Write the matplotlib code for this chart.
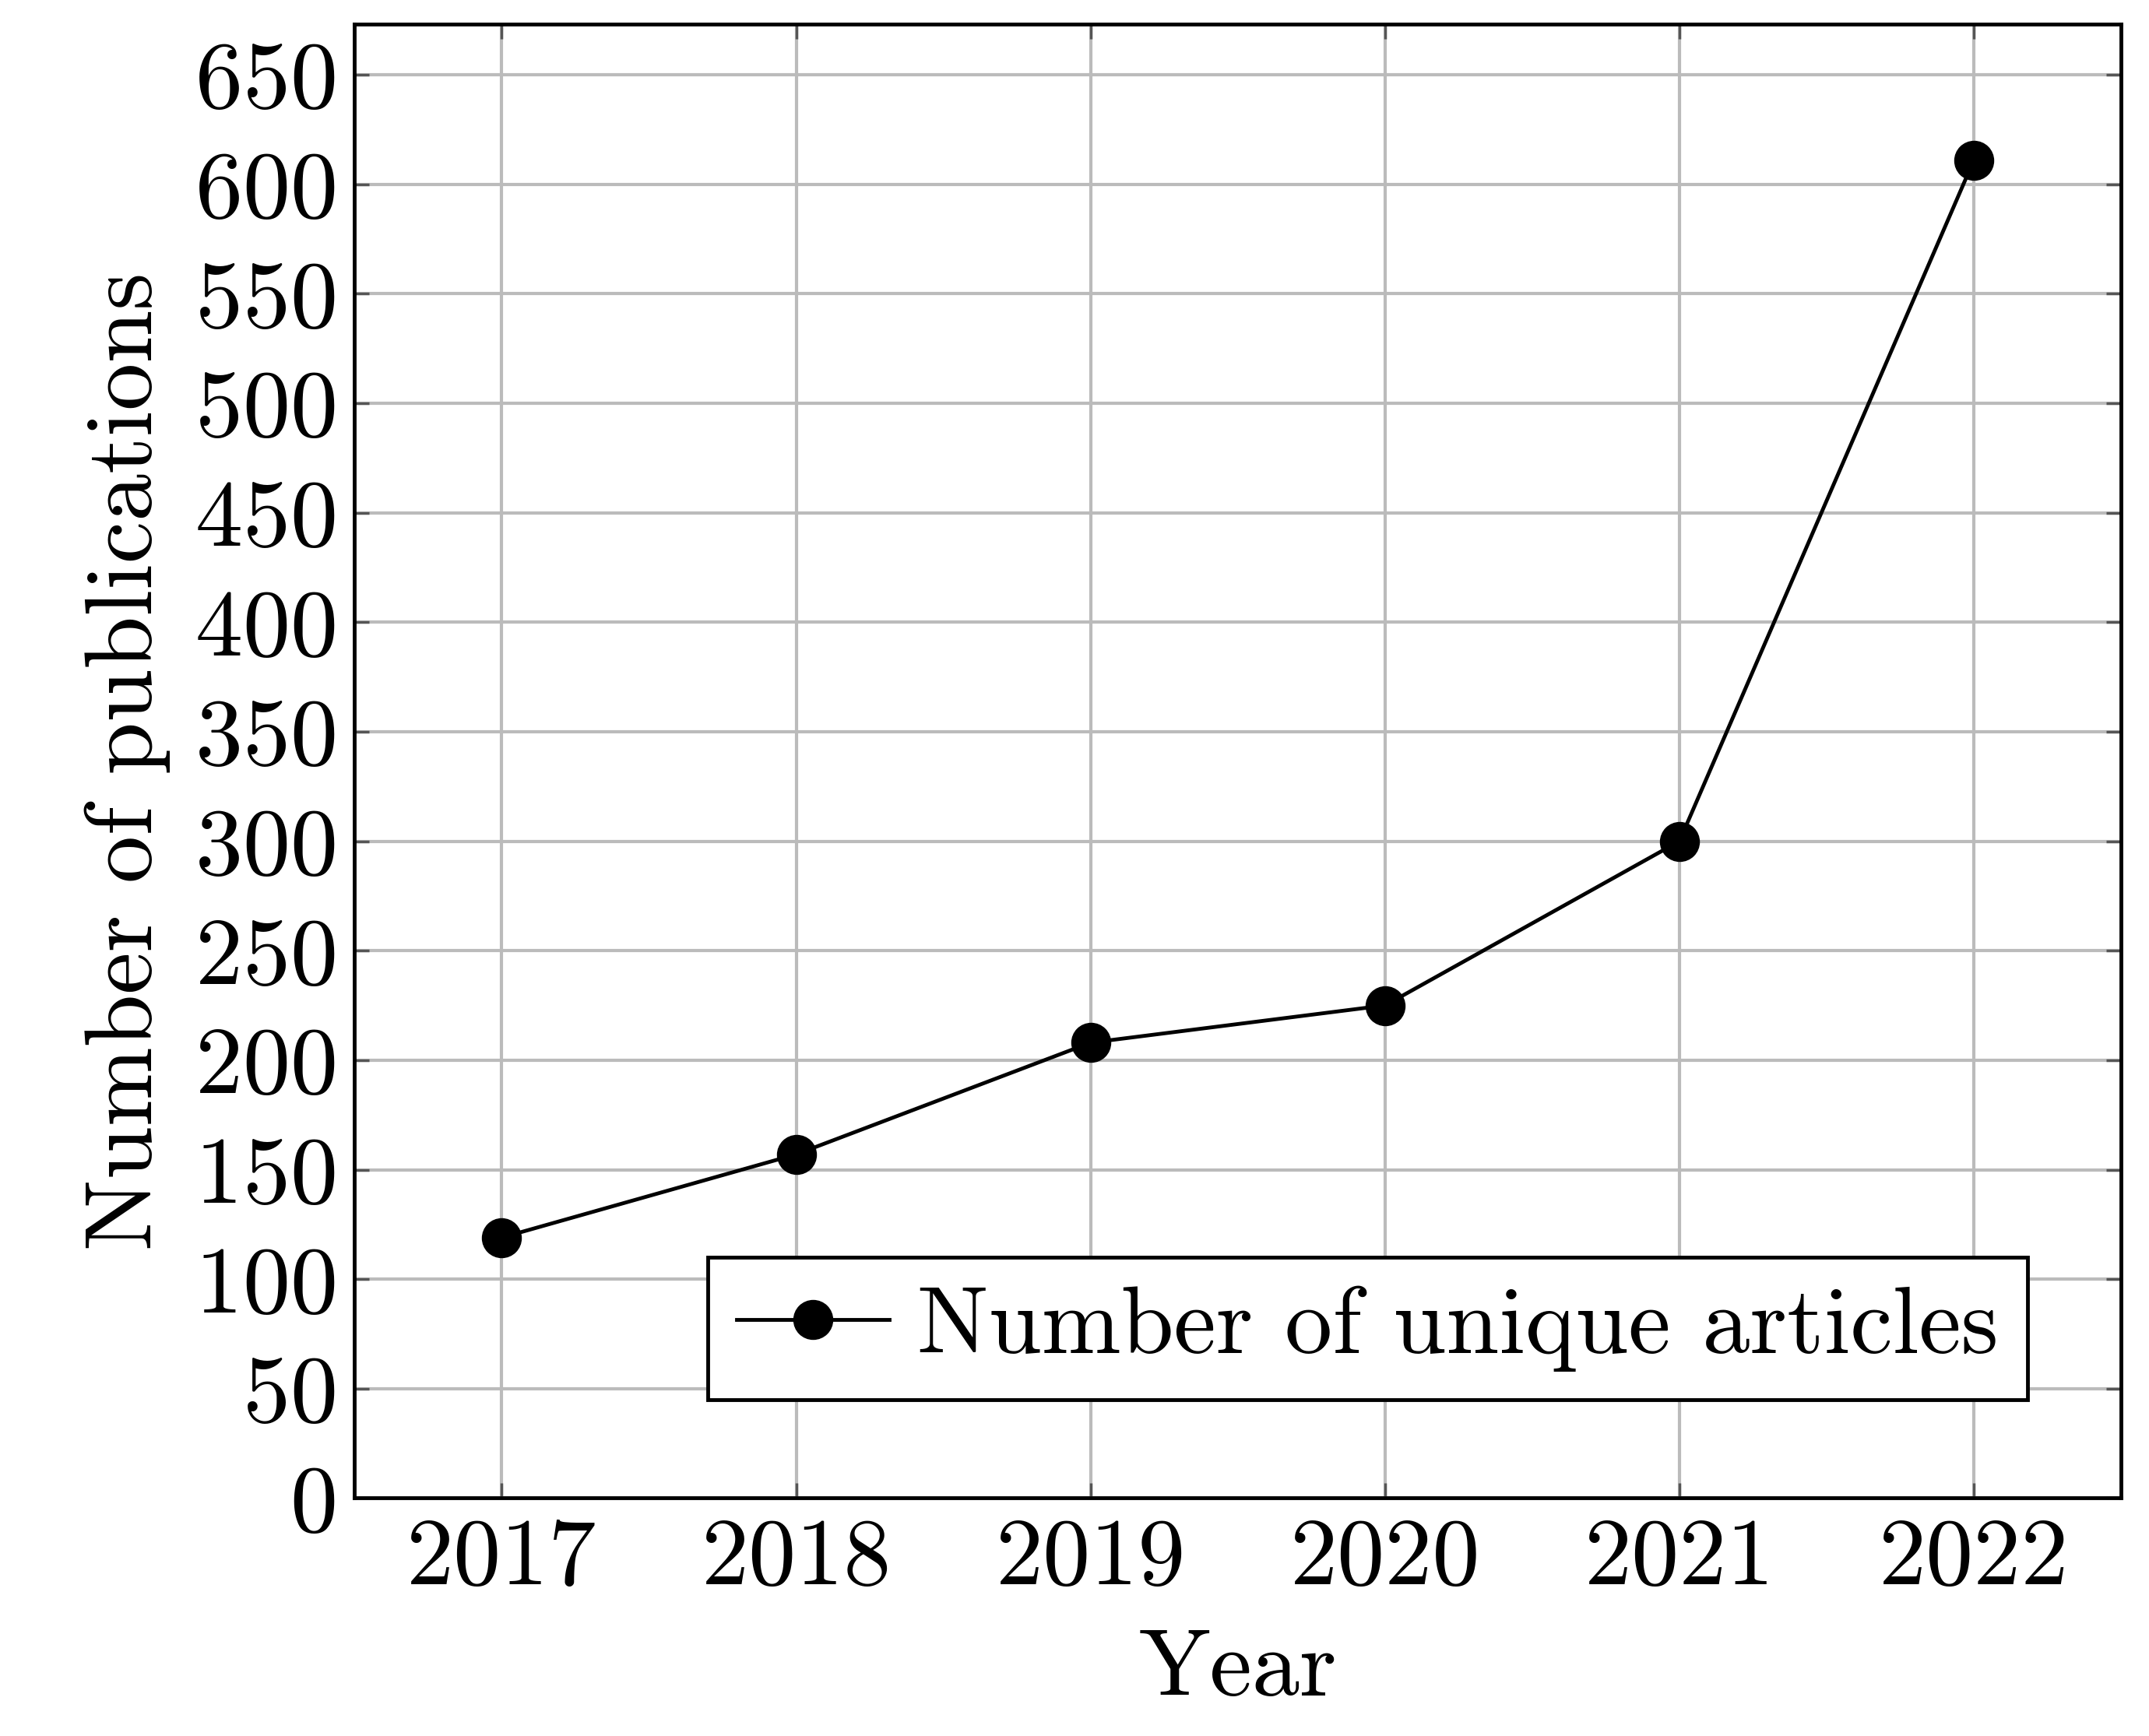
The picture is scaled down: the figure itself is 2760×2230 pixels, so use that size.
import matplotlib
matplotlib.use("Agg")
import matplotlib.pyplot as plt

plt.rcParams["font.family"] = "serif"
plt.rcParams["font.serif"] = ["cmr10", "DejaVu Serif"]
plt.rcParams["axes.formatter.use_mathtext"] = True
plt.rcParams["mathtext.fontset"] = "cm"

years = [2017, 2018, 2019, 2020, 2021, 2022]
articles = [119, 157, 208, 225, 300, 611]
yticks = list(range(0, 651, 50))

fig = plt.figure(figsize=(27.6, 22.3), dpi=100)
ax = fig.add_axes([0.165, 0.137, 0.822, 0.849])

ax.plot(years, articles, "-o", color="black", lw=3.5, ms=36,
        label="Number of unique articles")
ax.set_xlim(2016.5, 2022.5)
ax.set_ylim(0, 673)
ax.set_xticks(years)
ax.set_xticklabels([str(y) for y in years])
ax.set_yticks(yticks)
ax.grid(True, color="#bbbbbb", lw=3)
ax.set_axisbelow(True)
ax.tick_params(direction="in", length=14, width=2.5, color="#555555",
               labelsize=88, top=True, right=True, pad=18)
for s in ax.spines.values():
    s.set_linewidth(3.5)
ax.set_xlabel("Year", fontsize=88, labelpad=25)
ax.set_ylabel("Number of publications", fontsize=88, labelpad=22)
leg = ax.legend(loc="lower right", fontsize=88, fancybox=False,
                edgecolor="black", framealpha=1, handlelength=1.6,
                handletextpad=0.3, borderpad=0.3,
                borderaxespad=0.8, bbox_to_anchor=(0.99, 0.015))
leg.get_frame().set_linewidth(3.5)

fig.savefig("out.png", dpi=100)
